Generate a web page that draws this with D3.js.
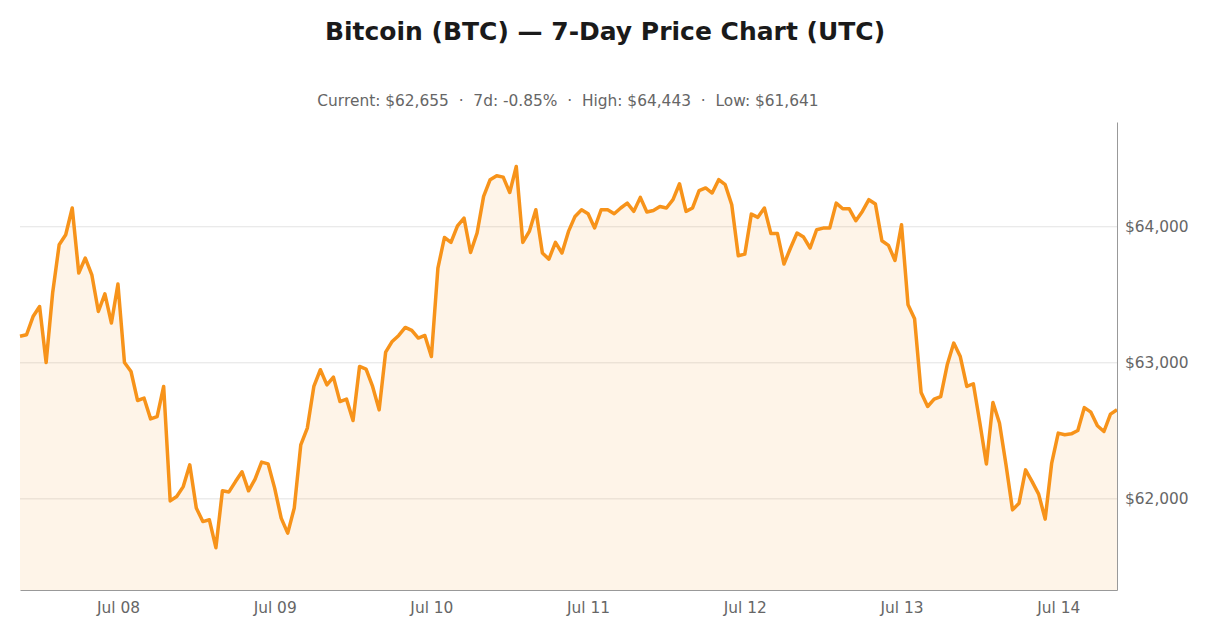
<!DOCTYPE html>
<html>
<head>
<meta charset="utf-8">
<script src="https://cdn.jsdelivr.net/npm/d3@7"></script>
<style>
  body { margin: 0; background: #fff; }
  svg { font-family: "DejaVu Sans", sans-serif; }
</style>
</head>
<body>
<div id="chart"></div>
<script>
// hourly closes, UTC, starting Jul 07 09:00
var startHour = Date.UTC(2024, 6, 7, 9);
var prices = [
  63195, 63206, 63340, 63414, 63002, 63515, 63868, 63941, 64138, 63660,
  63770, 63647, 63377, 63507, 63292, 63579, 63002, 62936, 62723, 62740,
  62588, 62605, 62826, 61985, 62017, 62090, 62250, 61932, 61833, 61846,
  61641, 62059, 62051, 62127, 62199, 62059, 62145, 62270, 62257, 62079,
  61858, 61748, 61932, 62397, 62520, 62826, 62949, 62838, 62895, 62715,
  62733, 62576, 62973, 62954, 62826, 62654, 63079, 63157, 63201, 63260,
  63238, 63182, 63201, 63046, 63696, 63921, 63885, 64007, 64064, 63811,
  63954, 64223, 64346, 64375, 64365, 64252, 64443, 63885, 63966, 64125,
  63807, 63762, 63885, 63807, 63966, 64076, 64125, 64096, 63991, 64125,
  64125, 64096, 64138, 64174, 64113, 64216, 64108, 64120, 64149, 64138,
  64199, 64316, 64113, 64138, 64265, 64285, 64248, 64346, 64309, 64162,
  63787, 63799, 64093, 64069, 64138, 63950, 63950, 63726, 63844, 63954,
  63924, 63844, 63978, 63990, 63990, 64174, 64132, 64132, 64044, 64113,
  64199, 64167, 63897, 63863, 63752, 64015, 63426, 63324, 62782, 62679,
  62733, 62752, 62985, 63145, 63046, 62826, 62846, 62557, 62256, 62708,
  62557, 62250, 61919, 61968, 62213, 62127, 62035, 61851, 62263, 62483,
  62471, 62478, 62502, 62671, 62637, 62537, 62495, 62623, 62655
];
var yTicks = [62000, 63000, 64000];
var yDomain = [61330, 64770];

var titleText = "Bitcoin (BTC) \u2014 7-Day Price Chart (UTC)";
var subtitleText = "Current: $62,655  \u00b7  7d: -0.85%  \u00b7  High: $64,443  \u00b7  Low: $61,641";

var width = 1210, height = 636;
var margin = {top: 122, right: 93, bottom: 46, left: 20};

var data = prices.map(function(p, i) {
  return {date: new Date(startHour + i * 3600 * 1000), price: p};
});

var svg = d3.select('#chart').append('svg')
  .attr('width', width)
  .attr('height', height);

var x = d3.scaleUtc()
  .domain(d3.extent(data, function(d) { return d.date; }))
  .range([margin.left, width - margin.right]);

var y = d3.scaleLinear()
  .domain(yDomain)
  .range([height - margin.bottom, margin.top]);

// title
svg.append('text')
  .attr('x', width / 2).attr('y', 40)
  .attr('text-anchor', 'middle')
  .attr('font-size', 25).attr('font-weight', 'bold')
  .attr('fill', '#1a1a1a')
  .text(titleText);

svg.append('text')
  .attr('x', width / 2 - 37).attr('y', 106)
  .attr('text-anchor', 'middle')
  .attr('font-size', 15.4)
  .attr('fill', '#666')
  .style('white-space', 'pre')
  .attr('xml:space', 'preserve')
  .text(subtitleText);

// grid
svg.append('g').selectAll('line').data(yTicks).enter().append('line')
  .attr('x1', margin.left).attr('x2', width - margin.right)
  .attr('y1', function(d) { return y(d); })
  .attr('y2', function(d) { return y(d); })
  .attr('stroke', '#e3e3e3').attr('stroke-width', 1);

var area = d3.area()
  .x(function(d) { return x(d.date); })
  .y0(y.range()[0])
  .y1(function(d) { return y(d.price); });

var line = d3.line()
  .x(function(d) { return x(d.date); })
  .y(function(d) { return y(d.price); });

svg.append('path').datum(data)
  .attr('d', area)
  .attr('fill', '#f7931a').attr('fill-opacity', 0.1);

svg.append('path').datum(data)
  .attr('d', line)
  .attr('fill', 'none')
  .attr('stroke', '#f7931a')
  .attr('stroke-width', 3.5)
  .attr('stroke-linejoin', 'round');

// axes
var xAxis = svg.append('g')
  .attr('transform', 'translate(0,' + (height - margin.bottom) + ')')
  .call(d3.axisBottom(x).ticks(d3.utcDay.every(1)).tickFormat(d3.utcFormat('%b %d')).tickSize(0).tickPadding(12));

var yAxis = svg.append('g')
  .attr('transform', 'translate(' + (width - margin.right) + ',0)')
  .call(d3.axisRight(y).tickValues(yTicks).tickFormat(function(d) { return '$' + d3.format(',')(d); }).tickSize(0).tickPadding(8));

[xAxis, yAxis].forEach(function(g) {
  g.select('.domain').attr('stroke', '#999').attr('stroke-width', 1);
  g.selectAll('text').attr('fill', '#666').attr('font-size', 15.4)
    .attr('font-family', '"DejaVu Sans", sans-serif');
});
</script>
</body>
</html>
